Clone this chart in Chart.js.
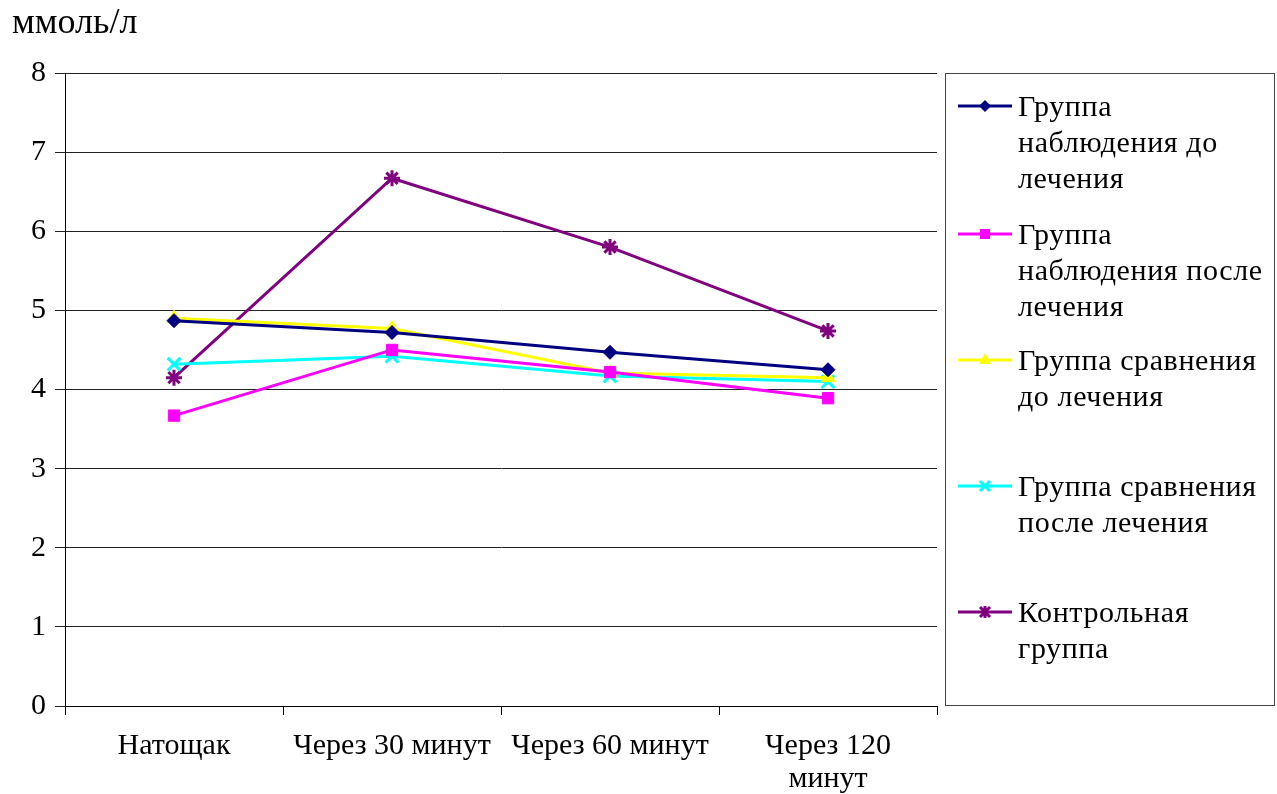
<!DOCTYPE html>
<html>
<head>
<meta charset="utf-8">
<script src="https://cdn.jsdelivr.net/npm/chart.js@4"></script>
<style>
  body { margin: 0; background: #fff; font-family: "Liberation Serif", "Times New Roman", serif; }
  #wrap { position: relative; width: 1277px; height: 794px; }
  #unit { position: absolute; left: 12px; top: 0px; font-size: 36px; color: #000; }
  #legend { position: absolute; left: 945px; top: 73px; width: 328px; height: 631px; border: 1px solid #444; }
  .item { position: absolute; left: 12px; display: flex; align-items: flex-start; }
  .item svg { flex: none; margin-top: 2px; }
  .item span { font-size: 30px; line-height: 36px; margin-left: 6px; color: #000; letter-spacing: 0.6px; }
</style>
</head>
<body>
<div id="wrap">
  <canvas id="chart" width="1277" height="794"></canvas>
  <div id="unit">ммоль/л</div>
  <div id="legend"></div>
</div>
<script>
// данные
const categories = ['Натощак', 'Через 30 минут', 'Через 60 минут', ['Через 120', 'минут']];
const seriesNames = [
  'Группа наблюдения до лечения',
  'Группа наблюдения после лечения',
  'Группа сравнения до лечения',
  'Группа сравнения после лечения',
  'Контрольная группа'
];
const obsBefore = [4.87, 4.72, 4.47, 4.25];
const obsAfter = [3.67, 4.50, 4.22, 3.89];
const cmpBefore = [4.90, 4.77, 4.21, 4.15];
const cmpAfter = [4.32, 4.42, 4.17, 4.10];
const control = [4.15, 6.67, 5.80, 4.74];
const yTicks = [0, 1, 2, 3, 4, 5, 6, 7, 8];

const colors = ['#000080', '#FF00FF', '#FFFF00', '#00FFFF', '#800080'];
const styles = ['rectRot', 'rect', 'triangle', 'crossRot', 'star'];
const radii = [7, 8, 8, 9, 8];
const legendLines = [
  ['Группа', 'наблюдения до', 'лечения'],
  ['Группа', 'наблюдения после', 'лечения'],
  ['Группа сравнения', 'до лечения'],
  ['Группа сравнения', 'после лечения'],
  ['Контрольная', 'группа']
];
const legendTops = [14, 142, 268, 394, 520];

const values = [obsBefore, obsAfter, cmpBefore, cmpAfter, control];
const font = { family: '"Liberation Serif", "Times New Roman", serif', size: 30, lineHeight: 1.1 };

new Chart(document.getElementById('chart'), {
  type: 'line',
  data: {
    labels: categories,
    datasets: values.map((v, i) => ({
      label: seriesNames[i],
      data: v,
      borderColor: colors[i],
      backgroundColor: colors[i],
      borderWidth: 3,
      pointStyle: styles[i],
      pointRadius: radii[i],
      pointBorderWidth: (i >= 3) ? 3 : 1,
      pointBorderColor: colors[i],
      tension: 0
    }))
  },
  options: {
    responsive: false,
    animation: false,
    layout: { padding: { top: 73, right: 340, left: 0, bottom: 0 } },
    plugins: { legend: { display: false }, tooltip: { enabled: false } },
    scales: {
      x: {
        offset: true,
        grid: { offset: true, drawOnChartArea: false, tickLength: 9, color: '#000', lineWidth: 1 },
        border: { color: '#000', width: 1 },
        ticks: { color: '#000', font: font, maxRotation: 0, padding: 15 },
        afterFit: s => { s.height = 88; }
      },
      y: {
        min: 0, max: 8,
        afterBuildTicks: s => { s.ticks = yTicks.map(v => ({ value: v })); },
        grid: { color: '#222', lineWidth: 1, tickLength: 10 },
        border: { color: '#000', width: 1 },
        ticks: { color: '#000', font: font, padding: 9 },
        afterFit: s => { s.width = 65; }
      }
    }
  }
});

// легенда
const legend = document.getElementById('legend');
seriesNames.forEach((name, i) => {
  const div = document.createElement('div');
  div.className = 'item';
  div.style.top = legendTops[i] + 'px';
  const c = colors[i];
  let mark = '';
  if (styles[i] === 'rectRot') mark = `<polygon points="27,10 33,16 27,22 21,16" fill="${c}"/>`;
  if (styles[i] === 'rect') mark = `<rect x="22" y="11" width="10" height="10" fill="${c}"/>`;
  if (styles[i] === 'triangle') mark = `<polygon points="27,9 33,20 21,20" fill="${c}"/>`;
  if (styles[i] === 'crossRot') mark = `<path d="M22,11 L32,21 M32,11 L22,21" stroke="${c}" stroke-width="3"/>`;
  if (styles[i] === 'star') mark = `<path d="M22,11 L32,21 M32,11 L22,21 M27,10 L27,22" stroke="${c}" stroke-width="3"/>`;
  div.innerHTML = `<svg width="54" height="32"><line x1="0" y1="16" x2="54" y2="16" stroke="${c}" stroke-width="3"/>${mark}</svg>` +
    `<span>${legendLines[i].join('<br>')}</span>`;
  legend.appendChild(div);
});
</script>
</body>
</html>
